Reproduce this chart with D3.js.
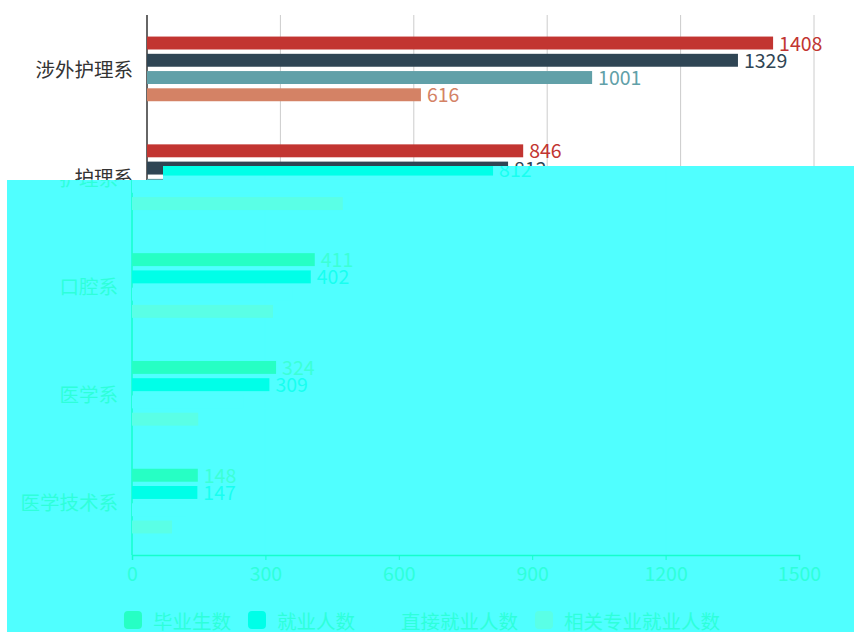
<!DOCTYPE html>
<html>
<head>
<meta charset="utf-8">
<script src="https://cdnjs.cloudflare.com/ajax/libs/d3/7.8.5/d3.min.js"></script>
<style>
  html, body { margin: 0; padding: 0; background: #ffffff; }
  svg { display: block; }
  text { font-family: "Noto Sans CJK SC", "Noto Sans", sans-serif; }
</style>
</head>
<body>
<svg id="chart" width="854" height="632"></svg>
<script>
// ---- data ----
const categories = ['涉外护理系', '护理系', '口腔系', '医学系', '医学技术系'];
const seriesNames = ['毕业生数', '就业人数', '直接就业人数', '相关专业就业人数'];
const graduates = [1408, 846, 411, 324, 148];
const employed  = [1329, 812, 402, 309, 147];
const direct    = [1001, 650, 360, 250, 120];
const related   = [616, 474, 317, 149, 90];
const xTicks = [0, 300, 600, 900, 1200, 1500];

const seriesValues = [graduates, employed, direct, related];

// ---- palettes ----
const normalPal = {
  bg: '#ffffff',
  text: '#333333',
  axis: '#333333',
  grid: '#cccccc',
  series: ['#c23531', '#2f4554', '#61a0a8', '#d48265'],
  labels: ['#c23531', '#2f4554', '#61a0a8', '#d48265']
};
const glitchPal = {
  bg: '#50ffff',
  text: '#2effda',
  axis: '#14ffcc',
  grid: '#50ffff',
  series: ['#26ffc4', '#00ffe8', '#50ffff', '#5affe6'],
  labels: ['#3cffd6', '#18fff0', '#50ffff', '#50ffff']
};

const svg = d3.select('#chart');
const W = 854, H = 632;
const FS = 19.5;

const x = d3.scaleLinear().domain([0, 1500]).range([147, 814]);
const y = d3.scaleBand().domain(categories).range([15, 554]).paddingInner(0).paddingOuter(0);
const yInner = d3.scaleBand().domain(d3.range(seriesNames.length))
  .range([0, y.bandwidth()]).paddingInner(0.25).paddingOuter(1.25);

function drawChart(g, pal) {
  // grid lines
  g.append('g').selectAll('line').data(xTicks.slice(1)).join('line')
    .attr('x1', d => x(d)).attr('x2', d => x(d))
    .attr('y1', y.range()[0]).attr('y2', y.range()[1])
    .attr('stroke', pal.grid).attr('stroke-width', 1);

  // y axis line
  g.append('line')
    .attr('x1', x(0)).attr('x2', x(0))
    .attr('y1', y.range()[0]).attr('y2', y.range()[1])
    .attr('stroke', pal.axis).attr('stroke-width', 1.5);

  // x axis
  const xa = g.append('g').attr('transform', `translate(0,${y.range()[1]})`)
    .call(d3.axisBottom(x).tickValues(xTicks).tickSize(5).tickPadding(7).tickFormat(d3.format('d')));
  xa.select('.domain').attr('stroke', pal.axis).attr('stroke-width', 1.5);
  xa.selectAll('.tick line').attr('stroke', pal.axis);
  xa.selectAll('.tick text').attr('fill', pal.text).attr('font-size', FS)
    .attr('font-family', '"Noto Sans CJK SC", sans-serif');

  // category labels
  g.append('g').selectAll('text').data(categories).join('text')
    .attr('x', x(0) - 14)
    .attr('y', d => y(d) + y.bandwidth() / 2)
    .attr('text-anchor', 'end')
    .attr('dominant-baseline', 'central')
    .attr('font-size', FS)
    .attr('fill', pal.text)
    .text(d => d);

  // bars + labels
  seriesValues.forEach((vals, si) => {
    const sg = g.append('g');
    sg.selectAll('rect').data(vals).join('rect')
      .attr('x', x(0))
      .attr('y', (d, i) => y(categories[i]) + yInner(si))
      .attr('width', d => x(d) - x(0))
      .attr('height', yInner.bandwidth())
      .attr('fill', pal.series[si]);
    sg.selectAll('text').data(vals).join('text')
      .attr('x', d => x(d) + 6)
      .attr('y', (d, i) => y(categories[i]) + yInner(si) + yInner.bandwidth() / 2 - 1)
      .attr('dominant-baseline', 'central')
      .attr('font-size', FS)
      .attr('fill', pal.labels[si])
      .text(d => d);
  });

  // legend
  const lg = g.append('g');
  const items = lg.selectAll('g').data(seriesNames).join('g');
  items.append('rect')
    .attr('width', 18).attr('height', 18).attr('rx', 4).attr('ry', 4)
    .attr('y', 610)
    .attr('fill', (d, i) => pal.series[i]);
  items.append('text')
    .attr('y', 619)
    .attr('dominant-baseline', 'central')
    .attr('font-size', FS)
    .attr('fill', pal.text)
    .text(d => d);
  let widths = [];
  items.each(function () { widths.push(d3.select(this).select('text').node().getComputedTextLength()); });
  const total = widths.reduce((a, w) => a + 18 + 11 + w, 0) + 17 * (widths.length - 1);
  let cx = 437 - total / 2;
  items.each(function (d, i) {
    const it = d3.select(this);
    it.select('rect').attr('x', cx);
    it.select('text').attr('x', cx + 29);
    cx += 29 + widths[i] + 17;
  });
}

// normal chart
svg.append('rect').attr('width', W).attr('height', H).attr('fill', normalPal.bg);
drawChart(svg.append('g'), normalPal);

// glitched region: shifted, recoloured copy of the same chart
const clipPts = [[163, 166], [W, 166], [W, H], [7, H], [7, 180], [163, 180]];
svg.append('defs').append('clipPath').attr('id', 'glitchClip')
  .append('polygon').attr('points', clipPts.map(p => p.join(',')).join(' '));
const gl = svg.append('g').attr('clip-path', 'url(#glitchClip)');
gl.append('rect').attr('width', W).attr('height', H).attr('fill', glitchPal.bg);
drawChart(gl.append('g').attr('transform', 'translate(-15,1)'), glitchPal);
</script>
</body>
</html>
